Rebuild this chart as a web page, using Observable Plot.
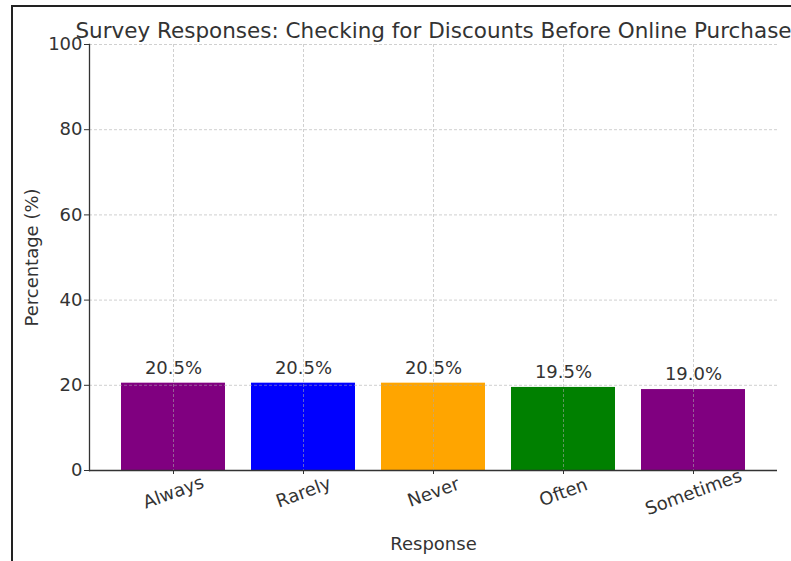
<!DOCTYPE html>
<html><head><meta charset="utf-8">
<script src="https://cdn.jsdelivr.net/npm/d3@7"></script>
<script src="https://cdn.jsdelivr.net/npm/@observablehq/plot@0.6"></script>
<style>
body{margin:0;background:#fff;font-family:"DejaVu Sans",sans-serif;}
#wrap{position:relative;width:791px;height:561px;overflow:hidden;}
#frame{position:absolute;left:11px;top:5px;right:-10px;bottom:-10px;border-top:2px solid #222;border-left:2px solid #222;pointer-events:none;}
#chart{position:absolute;left:0;top:0;}
</style></head>
<body><div id="wrap"><div id="chart"></div><div id="frame"></div></div>
<script>
const categories = ["Always", "Rarely", "Never", "Often", "Sometimes"];
const values = [20.5, 20.5, 20.5, 19.5, 19.0];
const colors = ["#800080", "#0000ff", "#ffa500", "#008000", "#800080"];
const yTicks = [0, 20, 40, 60, 80, 100];
const title = "Survey Responses: Checking for Discounts Before Online Purchase";
const xLabel = "Response";
const yLabel = "Percentage (%)";

const data = categories.map((c, i) => ({cat: c, value: values[i], color: colors[i]}));
const txt = "#333";

const plot = Plot.plot({
  width: 791, height: 561,
  marginLeft: 89, marginRight: 14, marginTop: 44, marginBottom: 91,
  style: {fontFamily: "DejaVu Sans, sans-serif", fontSize: "18px", color: txt, background: "transparent"},
  x: {domain: categories, paddingInner: 0.2, paddingOuter: 0.24},
  y: {domain: [0, 100]},
  marks: [
    Plot.barY(data, {x: "cat", y: "value", fill: "color"}),
    Plot.gridY({ticks: yTicks.slice(1), stroke: "#aaa", strokeOpacity: 0.55, strokeDasharray: "3,2"}),
    Plot.gridX({stroke: "#aaa", strokeOpacity: 0.55, strokeDasharray: "3,2"}),
    Plot.frame({anchor: "left", stroke: "#333", strokeWidth: 1.3}),
    Plot.ruleY([0], {stroke: "#333", strokeWidth: 1.3}),
    Plot.axisY({ticks: yTicks, tickSize: 5, tickPadding: 2, fontSize: 18, label: yLabel, labelAnchor: "center", labelArrow: false, labelOffset: 64, stroke: "#333"}),
    Plot.axisX({tickSize: 4, tickFormat: () => "", label: null, stroke: "#333"}),
    Plot.text(categories, {x: d => d, y: () => 0, dy: 22, rotate: -20, textAnchor: "middle", lineAnchor: "middle", fontSize: 18, fill: txt}),
    Plot.text(data, {x: "cat", y: "value", text: d => d.value.toFixed(1) + "%", dy: -15, fontSize: 18, fill: txt}),
    Plot.text([xLabel], {frameAnchor: "bottom", dy: 79, fontSize: 18, fill: txt}),
    Plot.text([title], {frameAnchor: "top", dy: -22, fontSize: 21.5, fill: txt})
  ]
});
document.getElementById("chart").appendChild(plot);
</script>
</body></html>
